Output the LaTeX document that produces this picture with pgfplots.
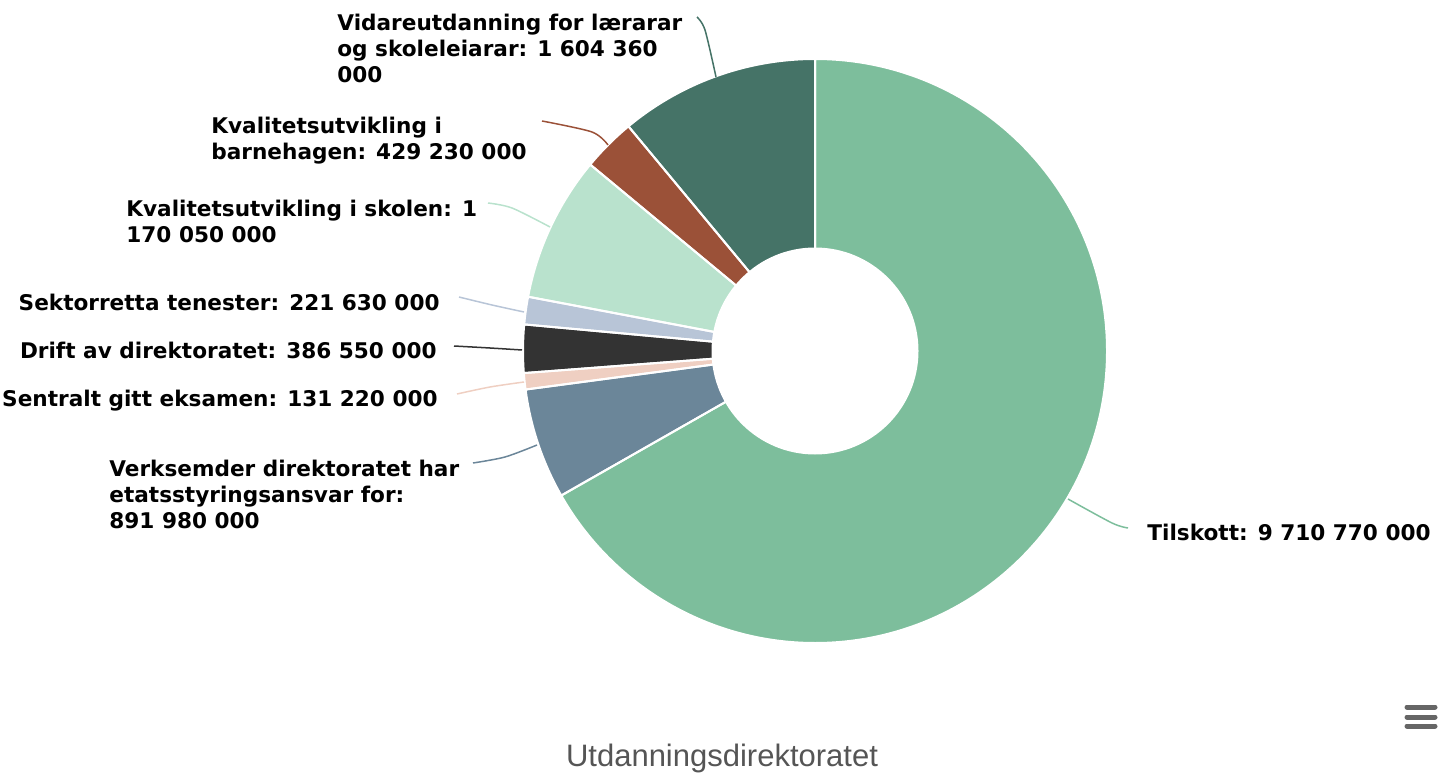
\documentclass[border=0pt]{standalone}
\usepackage{fontspec}
\usepackage{pgfplots}
\usepackage{pgfplotstable}
\pgfplotsset{compat=1.18}
\newfontfamily\labelfont{DejaVu Sans}
\newfontfamily\titlefont{Liberation Sans}

\definecolor{cTil}{HTML}{7DBE9C}
\definecolor{cVer}{HTML}{6B8699}
\definecolor{cSen}{HTML}{EFCFC2}
\definecolor{cDri}{HTML}{333333}
\definecolor{cSek}{HTML}{B8C5D7}
\definecolor{cSko}{HTML}{B9E2CD}
\definecolor{cBar}{HTML}{9B5138}
\definecolor{cVid}{HTML}{457367}
\definecolor{titlegrey}{HTML}{555555}
\definecolor{icongrey}{HTML}{666666}

% values in millions of NOK
\pgfplotstableread[col sep=comma]{
key,value,color
Tilskott,9710.77,cTil
Verksemder,891.98,cVer
Sentralt,131.22,cSen
Drift,386.55,cDri
Sektorretta,221.63,cSek
Skolen,1170.05,cSko
Barnehagen,429.23,cBar
Vidareutdanning,1604.36,cVid
}\budget

\newcommand\lab[1]{{\labelfont\bfseries\fontsize{10.8pt}{13pt}\selectfont #1}}

\begin{document}
\begin{tikzpicture}
% total
\def\total{0}
\pgfplotsforeachungrouped \i in {0,...,7}{%
  \pgfplotstablegetelem{\i}{value}\of\budget
  \pgfmathsetmacro\total{\total+\pgfplotsretval}%
}
% angles (clockwise from 12 o'clock)
\def\cum{0}
\pgfplotsforeachungrouped \i in {0,...,7}{%
  \pgfplotstablegetelem{\i}{value}\of\budget
  \let\val\pgfplotsretval
  \pgfmathsetmacro\startang{90-360*(\cum/\total)}%
  \pgfmathsetmacro\cum{\cum+\val}%
  \pgfmathsetmacro\endang{90-360*(\cum/\total)}%
  \expandafter\xdef\csname sA\i\endcsname{\startang}%
  \expandafter\xdef\csname eA\i\endcsname{\endang}%
  \pgfplotstablegetelem{\i}{color}\of\budget
  \expandafter\xdef\csname cC\i\endcsname{\pgfplotsretval}%
}
\begin{axis}[
  name=ax,
  width=725pt, height=386pt, scale only axis,
  xmin=0, xmax=1450, ymin=0, ymax=772,
  hide axis, clip=false,
]
% slices
\pgfplotsforeachungrouped \i in {0,...,7}{%
  \edef\temp{\noexpand\addplot[fill=\csname cC\i\endcsname, draw=none]
    coordinates {(815,421)} -- ++(\csname sA\i\endcsname:146pt)
    arc[start angle=\csname sA\i\endcsname, end angle=\csname eA\i\endcsname, radius=146pt] -- cycle;}%
  \temp
}
\pgfplotsforeachungrouped \i in {0,...,7}{%
  \edef\temp{\noexpand\addplot[draw=white, line width=1pt, line join=round]
    coordinates {(815,421)} -- ++(\csname sA\i\endcsname:146pt)
    arc[start angle=\csname sA\i\endcsname, end angle=\csname eA\i\endcsname, radius=146pt] -- cycle;}%
  \temp
}
% donut hole
\addplot[fill=white, draw=none] coordinates {(815,421)} circle[radius=51.75pt];

% connectors
\addplot[cTil, line width=0.75pt, smooth] coordinates {(1068,273) (1112,249) (1128,244)};
\addplot[cVid, line width=0.75pt, smooth] coordinates {(697,755) (705,742) (716,695)};
\addplot[cBar, line width=0.75pt, smooth] coordinates {(542,651) (592,640) (608,627)};
\addplot[cSko, line width=0.75pt, smooth] coordinates {(488,569) (512,564) (550,545)};
\addplot[cSek, line width=0.75pt, smooth] coordinates {(459,475) (492,467) (524,460)};
\addplot[cDri, line width=0.75pt, smooth] coordinates {(454,426) (490,424) (522,422)};
\addplot[cSen, line width=0.75pt, smooth] coordinates {(457,378) (490,385) (524,390)};
\addplot[cVer, line width=0.75pt, smooth] coordinates {(473,309) (505,315) (537,327)};

% labels
\node[anchor=base west, inner sep=0] at (axis cs:337,741) {\lab{Vidareutdanning for lærarar}};
\node[anchor=base west, inner sep=0] at (axis cs:337,715) {\lab{og skoleleiarar: 1 604 360}};
\node[anchor=base west, inner sep=0] at (axis cs:337,689) {\lab{000}};
\node[anchor=base west, inner sep=0] at (axis cs:211,638) {\lab{Kvalitetsutvikling i}};
\node[anchor=base west, inner sep=0] at (axis cs:211,612) {\lab{barnehagen: 429 230 000}};
\node[anchor=base west, inner sep=0] at (axis cs:126,555) {\lab{Kvalitetsutvikling i skolen: 1}};
\node[anchor=base west, inner sep=0] at (axis cs:126,529) {\lab{170 050 000}};
\node[anchor=base east, inner sep=0] at (axis cs:440,461) {\lab{Sektorretta tenester: 221 630 000}};
\node[anchor=base east, inner sep=0] at (axis cs:437,413) {\lab{Drift av direktoratet: 386 550 000}};
\node[anchor=base east, inner sep=0] at (axis cs:438,365) {\lab{Sentralt gitt eksamen: 131 220 000}};
\node[anchor=base west, inner sep=0] at (axis cs:109,296) {\lab{Verksemder direktoratet har}};
\node[anchor=base west, inner sep=0] at (axis cs:109,270) {\lab{etatsstyringsansvar for:}};
\node[anchor=base west, inner sep=0] at (axis cs:109,244) {\lab{891 980 000}};
\node[anchor=base west, inner sep=0] at (axis cs:1147,232) {\lab{Tilskott: 9 710 770 000}};

% title
\node[anchor=base, inner sep=0, text=titlegrey] at (axis cs:722,6)
  {\titlefont\fontsize{15.5pt}{18pt}\selectfont Utdanningsdirektoratet};

% menu icon
\addplot[icongrey, line width=2.5pt, line cap=round] coordinates {(1407,65) (1435,65)};
\addplot[icongrey, line width=2.5pt, line cap=round] coordinates {(1407,55) (1435,55)};
\addplot[icongrey, line width=2.5pt, line cap=round] coordinates {(1407,46) (1435,46)};
\end{axis}
\pgfresetboundingbox
\useasboundingbox (ax.south west) rectangle (ax.north east);
\end{tikzpicture}
\end{document}
